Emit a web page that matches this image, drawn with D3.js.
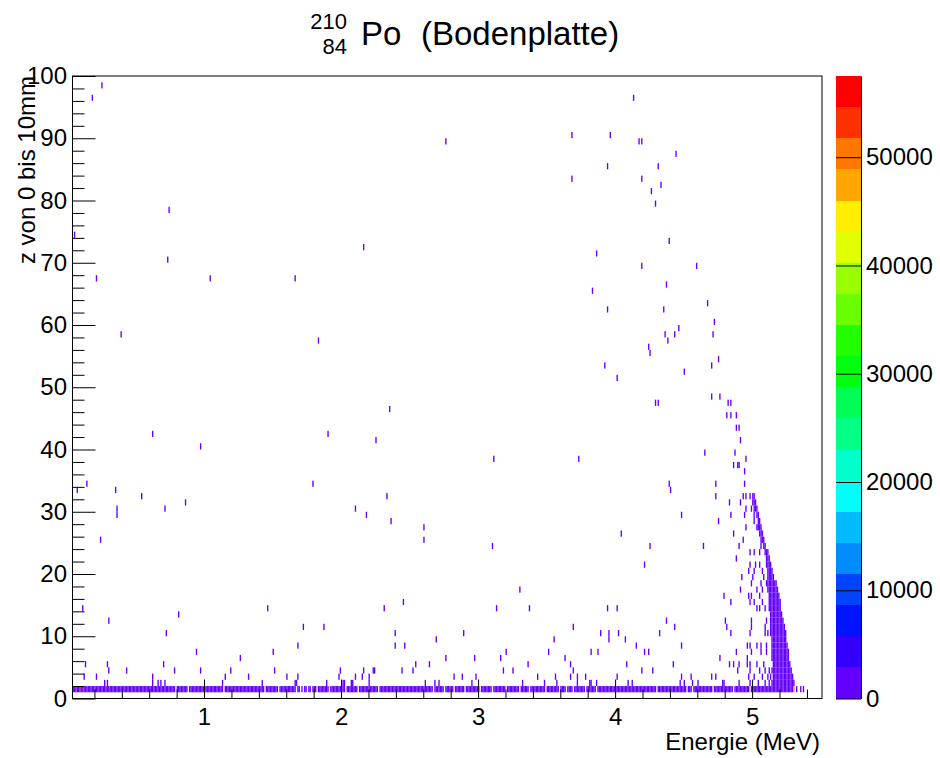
<!DOCTYPE html>
<html>
<head>
<meta charset="utf-8">
<script src="https://cdn.jsdelivr.net/npm/d3@7"></script>
<style>
  body { margin: 0; background: #fff; }
  svg text { font-family: "Liberation Sans", Arial, Helvetica, sans-serif; fill: #000; }
</style>
</head>
<body>
<svg id="chart" width="940" height="758"></svg>
<script>
// energy axis (MeV) and z axis (mm*10) ranges
var energyRange = [0.04, 5.51];
var zRange = [0, 100];
var binWidth = 0.01;
var zMax = 57500;

var xTicks = [1, 2, 3, 4, 5];
var yTicks = [0, 10, 20, 30, 40, 50, 60, 70, 80, 90, 100];
var zTicks = [0, 10000, 20000, 30000, 40000, 50000];

// bottom row (z bin 1) is filled from start to the peak, except these empty bins
var barRow = { z: 1, from: 0.04, to: 5.30, count: 180 };
var barGaps = [0.79, 0.88, 1.14, 1.44, 1.54, 1.67, 1.70, 1.72, 1.75, 1.78, 1.82, 1.91,
  2.03, 2.12, 2.27, 2.67, 2.75, 2.82, 2.90, 3.01, 3.10, 3.20, 3.30, 3.37, 3.49, 3.59,
  3.64, 3.69, 3.78, 3.86, 4.30, 4.52, 4.56, 4.71, 4.86, 4.98];

// the two very full bins
var hotBins = [[0.10, 1, 57500], [5.30, 1, 50200]];

// dense part of the alpha peak: [z bin, E from, E to]
var peakRuns = [
  [2, 5.14, 5.30], [3, 5.15, 5.29], [4, 5.14, 5.28], [5, 5.15, 5.27], [6, 5.14, 5.265],
  [7, 5.14, 5.26], [8, 5.14, 5.25], [9, 5.14, 5.245], [10, 5.13, 5.24], [11, 5.13, 5.23],
  [12, 5.13, 5.22], [13, 5.13, 5.21], [14, 5.12, 5.205], [15, 5.12, 5.20], [16, 5.12, 5.19],
  [17, 5.11, 5.18], [18, 5.11, 5.17], [19, 5.11, 5.155], [20, 5.11, 5.145], [21, 5.10, 5.135],
  [22, 5.10, 5.125], [23, 5.09, 5.11], [24, 5.08, 5.095], [25, 5.07, 5.085], [26, 5.06, 5.07],
  [27, 5.05, 5.06], [28, 5.04, 5.05], [29, 5.03, 5.045], [30, 5.02, 5.035], [31, 5.01, 5.02],
  [32, 5.00, 5.01]
];
var peakCount = 4;

// single events: [E, z bin]
var singleEvents = [
  [0.257, 98], [0.18, 96], [4.131, 96], [2.765, 89], [3.688, 90], [3.969, 90], [4.173, 89],
  [4.196, 89], [4.446, 87], [3.949, 85], [4.31, 85], [3.685, 83], [4.199, 83], [4.338, 82],
  [4.262, 81], [4.299, 79], [0.743, 78], [0.055, 74], [4.39, 73], [2.163, 72], [3.864, 71],
  [0.737, 70], [4.196, 69], [0.212, 67], [1.041, 67], [1.66, 67], [4.375, 66], [3.836, 65],
  [3.941, 62], [4.355, 62], [4.46, 59], [0.396, 58], [4.364, 58], [4.432, 58], [4.387, 57],
  [1.839, 57], [4.242, 56], [4.259, 55], [3.924, 53], [4.017, 51], [4.299, 47], [4.315, 47],
  [2.356, 46], [0.621, 42], [1.904, 42], [0.978, 40], [2.257, 41], [3.117, 38], [3.73, 38],
  [0.141, 34], [0.075, 33], [0.357, 33], [1.794, 34], [4.398, 34], [4.407, 33], [0.544, 32],
  [2.333, 32], [0.865, 31], [0.365, 30], [0.365, 29], [0.717, 30], [2.109, 30], [2.183, 29],
  [4.48, 29], [2.364, 28], [2.6, 27], [2.6, 25], [0.246, 25], [4.046, 26], [3.1, 24],
  [4.259, 24], [4.216, 21], [3.3, 17], [2.455, 15], [0.118, 14], [1.461, 14], [2.31, 14],
  [3.134, 14], [3.376, 14], [3.941, 14], [4.017, 14], [0.3, 12], [0.817, 13], [4.375, 12],
  [1.72, 11], [1.879, 11], [3.696, 11], [4.432, 11], [0.729, 10], [2.393, 10], [2.89, 10],
  [3.892, 10], [3.958, 10], [3.958, 9], [4.029, 10], [4.327, 10], [2.697, 9], [3.555, 9],
  [4.074, 9], [1.686, 8], [2.393, 8], [2.469, 8], [4.151, 8], [0.942, 7], [1.504, 7],
  [3.205, 7], [3.515, 7], [3.821, 7], [3.875, 7], [4.213, 7], [4.247, 7], [1.262, 6],
  [2.765, 6], [2.978, 6], [3.163, 6], [3.631, 6], [0.135, 5], [0.294, 5], [0.706, 5],
  [2.549, 5], [2.648, 5], [3.364, 5], [3.671, 5], [4.083, 5], [4.426, 5],
  [0.308, 4], [0.439, 4], [0.783, 4], [0.979, 4], [1.192, 4], [1.512, 4], [1.992, 4],
  [2.163, 4], [2.237, 4], [2.245, 4], [2.444, 4], [2.521, 4], [3.182, 4], [3.25, 4],
  [3.697, 4], [4.193, 4], [4.27, 4],
  [0.124, 3], [0.218, 3], [0.626, 3], [1.155, 3], [1.322, 3], [1.609, 3], [1.689, 3],
  [1.981, 3], [2.109, 3], [2.157, 3], [2.203, 3], [2.825, 3], [2.881, 3], [2.987, 3],
  [3.433, 3], [3.563, 3], [3.671, 3], [3.725, 3], [3.785, 3], [4.012, 3], [4.48, 3],
  [0.271, 2], [0.294, 2], [0.623, 2], [0.663, 2], [0.689, 2], [0.714, 2], [1.135, 2],
  [1.425, 2], [1.666, 2], [1.677, 2], [1.899, 2], [2.012, 2], [2.024, 2], [2.072, 2],
  [2.086, 2], [2.203, 2], [2.614, 2], [2.685, 2], [2.711, 2], [2.952, 2], [3.327, 2],
  [3.483, 2], [3.574, 2], [3.722, 2], [3.81, 2], [3.824, 2], [3.861, 2], [4.097, 2], [4.123, 2],
  // right side, above the peak
  [4.59, 69], [4.67, 63], [4.721, 60], [4.717, 58], [4.758, 54], [4.7, 53], [4.507, 52],
  [4.707, 48], [4.765, 48], [4.828, 47], [4.848, 47], [4.819, 45], [4.848, 45], [4.889, 45],
  [4.885, 43], [4.9, 43], [4.911, 41], [4.653, 39], [4.87, 39], [4.958, 38],
  [4.872, 39], [4.86, 37], [4.89, 37], [4.904, 37], [4.941, 36], [4.739, 34], [4.945, 34],
  [4.734, 32], [4.933, 32], [4.95, 32], [4.982, 32], [4.836, 31], [4.916, 31], [5.006, 31],
  [4.958, 30], [4.994, 30], [5.011, 30], [4.483, 29], [4.848, 29], [4.945, 29], [5.018, 29],
  [4.756, 28], [5.011, 28], [4.958, 27], [5.03, 27], [5.043, 27], [4.868, 26], [5.055, 26],
  [4.933, 25], [5.067, 25], [4.641, 24], [4.909, 24], [5.067, 24], [4.982, 23], [5.018, 23],
  [5.055, 23], [4.88, 22], [4.987, 21], [5.021, 21], [5.055, 21], [4.97, 20], [5.018, 20],
  [5.079, 20], [4.921, 19], [5.006, 19], [5.084, 19], [4.992, 18], [5.067, 18], [5.104, 18],
  [4.916, 17], [5.03, 17], [5.074, 17], [4.799, 16], [4.977, 16], [4.999, 16], [5.055, 16],
  [4.848, 15], [4.987, 15], [5.011, 15], [5.079, 15], [5.03, 14], [5.055, 14], [5.091, 14],
  [4.804, 12], [4.999, 12], [5.108, 12], [4.816, 11], [4.994, 11], [5.091, 11], [4.841, 10],
  [4.982, 10], [5.091, 10], [5.116, 10], [4.483, 8], [4.962, 8], [4.989, 8], [5.035, 8],
  [5.069, 8], [5.108, 8], [4.88, 7], [4.992, 7], [5.067, 7], [5.108, 7], [4.763, 6], [4.965, 6],
  [4.836, 5], [4.865, 5], [4.904, 5], [4.965, 5], [4.989, 5], [5.03, 5], [5.084, 5],
  [4.89, 4], [4.987, 4], [5.055, 4], [5.099, 4], [5.128, 4], [4.483, 3], [4.556, 3],
  [4.707, 3], [4.734, 3], [4.97, 3], [5.011, 3], [5.079, 3], [5.116, 3], [5.133, 3],
  [4.471, 2], [4.507, 2], [4.568, 2], [4.605, 2], [4.782, 2], [4.799, 2], [4.909, 2],
  [4.982, 2], [5.043, 2], [5.091, 2], [5.128, 2],
  // beyond the peak edge
  [5.32, 1], [5.35, 1], [5.37, 1]
];

var svg = d3.select("#chart");
var frame = { left: 72.5, right: 822, top: 76, bottom: 698.5 };
var bar = { left: 836, right: 861 };

var x = d3.scaleLinear().domain(energyRange).range([frame.left, frame.right]);
var y = d3.scaleLinear().domain(zRange).range([frame.bottom, frame.top]);
var zScale = d3.scaleLinear().domain([0, zMax]).range([frame.bottom, frame.top]);

// ROOT "pretty" palette: 50 hues from violet to red, 20 contour levels
var palette = d3.range(50).map(function(i) {
    var hue = Math.max(0, 280 - (i + 1) * 5.6);
    return d3.hsl(hue, 1, 0.5).formatHex();
});
var nLevels = 20;
function levelColor(k) {
    return palette[Math.floor((k + 0.99) * palette.length / nLevels)];
}
function binColor(c) {
    var k = Math.floor(c / zMax * nLevels);
    if (k > nLevels - 1) k = nLevels - 1;
    return levelColor(k);
}

// collect the filled bins
function binIndex(e) { return Math.floor(e / binWidth + 1e-6); }
var cells = {};
function addBin(e, z, c) {
    var key = binIndex(e) + "_" + z;
    cells[key] = { i: binIndex(e), z: z, c: c };
}
var gapSet = {};
barGaps.forEach(function(g) { gapSet[binIndex(g)] = true; });
for (var i = binIndex(barRow.from); i <= binIndex(barRow.to); i++) {
    if (!gapSet[i]) addBin(i * binWidth, barRow.z, barRow.count);
}
peakRuns.forEach(function(r) {
    for (var j = binIndex(r[1]); j <= binIndex(r[2]); j++) addBin(j * binWidth, r[0], peakCount);
});
singleEvents.forEach(function(s) { addBin(s[0], s[1], 1); });
hotBins.forEach(function(h) { addBin(h[0], h[1], h[2]); });
var binList = Object.keys(cells).map(function(k) { return cells[k]; })
    .sort(function(a, b) { return a.c - b.c; });

svg.append("g")
    .selectAll("rect")
    .data(binList)
    .enter().append("rect")
        .attr("x", function(d) { return x(d.i * binWidth); })
        .attr("width", function(d) { return x((d.i + 1) * binWidth) - x(d.i * binWidth); })
        .attr("y", function(d) { return y(d.z + 1); })
        .attr("height", function(d) { return y(d.z) - y(d.z + 1); })
        .attr("fill", function(d) { return binColor(d.c); });

// axes, ticks pointing into the frame
var xMinor = d3.range(0.2, 5.5, 0.2).filter(function(v) { return Math.abs(v - Math.round(v)) > 0.01; });
var yMinor = d3.range(2, 100, 2).filter(function(v) { return v % 10 != 0; });

svg.append("g")
    .attr("transform", "translate(0," + frame.bottom + ")")
    .call(d3.axisBottom(x).tickValues(xMinor).tickSize(-9).tickSizeOuter(0).tickFormat(""));
svg.append("g")
    .attr("class", "xaxis")
    .attr("transform", "translate(0," + frame.bottom + ")")
    .call(d3.axisBottom(x).tickValues(xTicks).tickSize(-19).tickSizeOuter(0).tickPadding(9)
        .tickFormat(d3.format("d")));

svg.append("g")
    .attr("transform", "translate(" + frame.left + ",0)")
    .call(d3.axisLeft(y).tickValues(yMinor).tickSize(-12).tickSizeOuter(0).tickFormat(""));
svg.append("g")
    .attr("class", "yaxis")
    .attr("transform", "translate(" + frame.left + ",0)")
    .call(d3.axisLeft(y).tickValues(yTicks).tickSize(-23).tickSizeOuter(0).tickPadding(5.5)
        .tickFormat(d3.format("d")));

svg.selectAll(".domain").remove();
svg.selectAll(".tick line").attr("stroke", "#000").attr("stroke-width", 1);
svg.selectAll(".xaxis text, .yaxis text").attr("font-size", 24);

svg.append("rect")
    .attr("x", frame.left)
    .attr("y", frame.top)
    .attr("width", frame.right - frame.left)
    .attr("height", frame.bottom - frame.top)
    .attr("fill", "none")
    .attr("stroke", "#000")
    .attr("stroke-width", 1);

// colour bar
var levels = d3.range(nLevels);
svg.append("g")
    .selectAll("rect")
    .data(levels)
    .enter().append("rect")
        .attr("x", bar.left)
        .attr("width", bar.right - bar.left)
        .attr("y", function(k) { return zScale((k + 1) * zMax / nLevels); })
        .attr("height", function(k) { return zScale(k * zMax / nLevels) - zScale((k + 1) * zMax / nLevels); })
        .attr("fill", function(k) { return levelColor(k); })
        .attr("shape-rendering", "crispEdges");

svg.append("g")
    .attr("class", "zaxis")
    .attr("transform", "translate(" + bar.right + ",0)")
    .call(d3.axisRight(zScale).tickValues(zTicks).tickSize(-(bar.right - bar.left)).tickSizeOuter(0)
        .tickPadding(5).tickFormat(d3.format("d")));
svg.select(".zaxis .domain").attr("stroke", "#000");
svg.selectAll(".zaxis .tick line").attr("stroke", "#000");
svg.selectAll(".zaxis text").attr("font-size", 24);

// labels
svg.append("text")
    .attr("x", 820)
    .attr("y", 750)
    .attr("text-anchor", "end")
    .attr("font-size", 24)
    .text("Energie (MeV)");

svg.append("text")
    .attr("transform", "translate(35," + frame.top + ") rotate(-90)")
    .attr("text-anchor", "end")
    .attr("font-size", 24)
    .text("z von 0 bis 10mm");

var title = svg.append("g");
title.append("text").attr("x", 347).attr("y", 29).attr("text-anchor", "end").attr("font-size", 22).text("210");
title.append("text").attr("x", 347).attr("y", 54).attr("text-anchor", "end").attr("font-size", 22).text("84");
title.append("text").attr("x", 361).attr("y", 45).attr("font-size", 33).text("Po");
title.append("text").attr("x", 421).attr("y", 45).attr("font-size", 33).text("(Bodenplatte)");
</script>
</body>
</html>
